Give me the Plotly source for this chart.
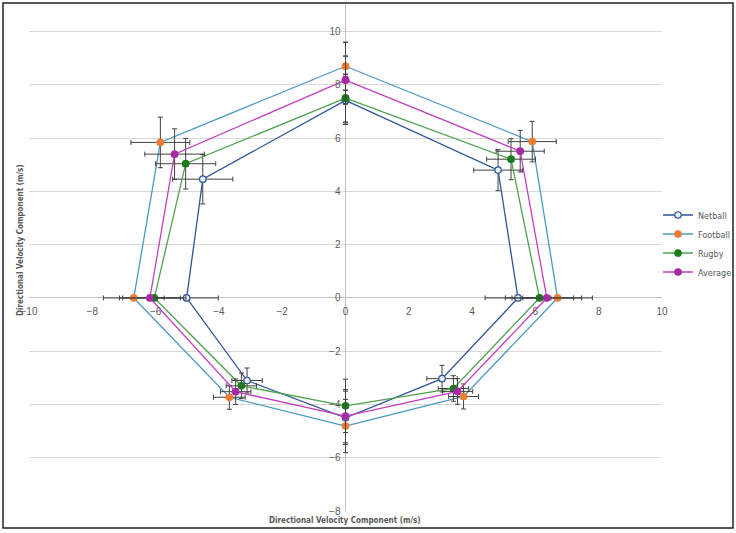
import plotly.graph_objects as go

# Order of directions: top, upper-right, right, lower-right, bottom, lower-left, left, upper-left, (close)
series_names = ["Netball", "Football", "Rugby", "Average"]

netball_x = [0.0, 4.82, 5.45, 3.05, 0.0, -3.11, -5.02, -4.51, 0.0]
netball_y = [7.42, 4.80, 0.0, -3.03, -4.50, -3.10, 0.0, 4.46, 7.42]
netball_ex = [0.0, 0.77, 1.04, 0.48, 0.0, 0.48, 1.00, 0.95, 0.0]
netball_ey = [0.90, 0.77, 0.0, 0.50, 1.00, 0.47, 0.0, 0.93, 0.90]

football_x = [0.0, 5.90, 6.70, 3.73, 0.0, -3.67, -6.69, -5.85, 0.0]
football_y = [8.70, 5.87, 0.0, -3.70, -4.81, -3.73, 0.0, 5.84, 8.70]
football_ex = [0.0, 0.76, 1.10, 0.47, 0.0, 0.50, 0.96, 0.93, 0.0]
football_ey = [0.90, 0.76, 0.0, 0.47, 1.00, 0.45, 0.0, 0.95, 0.90]

rugby_x = [0.0, 5.23, 6.13, 3.41, 0.0, -3.29, -6.04, -5.05, 0.0]
rugby_y = [7.50, 5.21, 0.0, -3.40, -4.05, -3.30, 0.0, 5.04, 7.50]
rugby_ex = [0.0, 0.77, 1.08, 0.48, 0.0, 0.48, 1.00, 0.95, 0.0]
rugby_ey = [0.90, 0.77, 0.0, 0.48, 1.00, 0.48, 0.0, 0.95, 0.90]

average_x = [0.0, 5.52, 6.36, 3.54, 0.0, -3.47, -6.18, -5.40, 0.0]
average_y = [8.18, 5.51, 0.0, -3.51, -4.44, -3.52, 0.0, 5.40, 8.18]
average_ex = [0.0, 0.76, 1.10, 0.48, 0.0, 0.48, 0.96, 0.94, 0.0]
average_ey = [0.90, 0.78, 0.0, 0.48, 1.00, 0.48, 0.0, 0.95, 0.90]

line_colors = ["#2F5597", "#4A9AC4", "#4EA24E", "#C23FC2"]
marker_fill = ["#EAF1FA", "#ED7D31", "#1B7A1B", "#A52CA5"]
marker_line = ["#2F5597", "#ED7D31", "#1B7A1B", "#A52CA5"]

data = [
    (netball_x, netball_y, netball_ex, netball_ey),
    (football_x, football_y, football_ex, football_ey),
    (rugby_x, rugby_y, rugby_ex, rugby_ey),
    (average_x, average_y, average_ex, average_ey),
]

FONT = "DejaVu Sans Condensed, Liberation Sans, sans-serif"
TICKFONT = "Liberation Sans, sans-serif"

fig = go.Figure()
for i, (name, (xs, ys, exs, eys)) in enumerate(zip(series_names, data)):
    fig.add_trace(go.Scatter(
        x=xs, y=ys, name=name, mode="lines+markers",
        line=dict(color=line_colors[i], width=1.3),
        marker=dict(size=6.5, color=marker_fill[i],
                    line=dict(color=marker_line[i], width=1.2)),
        error_x=dict(type="data", array=exs, visible=True, color="#404040",
                     thickness=1, width=2.5),
        error_y=dict(type="data", array=eys, visible=True, color="#404040",
                     thickness=1, width=2.5),
    ))

W, H = 736, 533
ml, mr, mt, mb = 29, 74, 5, 22
pw, ph = W - ml - mr, H - mt - mb
fig.update_layout(
    width=W, height=H,
    margin=dict(l=ml, r=mr, t=mt, b=mb, autoexpand=False),
    paper_bgcolor="white", plot_bgcolor="white",
    font=dict(family=FONT, size=10, color="#595959"),
    showlegend=True,
    legend=dict(x=(658 - ml) / pw, y=(H - mb - 243.5) / ph,
                xanchor="left", yanchor="middle",
                font=dict(family=FONT, size=9, color="#595959"),
                itemwidth=30,
                bgcolor="rgba(0,0,0,0)"),
    xaxis=dict(range=[-10, 10], dtick=2, tick0=-10, showgrid=False,
               zeroline=True, zerolinecolor="#BFBFBF", zerolinewidth=1,
               showline=False, anchor="free", position=8/19,
               ticks="outside", ticklen=4, tickcolor="rgba(0,0,0,0)",
               tickfont=dict(family=TICKFONT, size=10, color="#595959"),
               tickformat="d"),
    yaxis=dict(range=[-8, 11], dtick=2, tick0=-8, showgrid=True,
               gridcolor="#D9D9D9", gridwidth=1,
               zeroline=True, zerolinecolor="#BFBFBF", zerolinewidth=1,
               showline=False, anchor="free", position=0.5,
               ticks="outside", ticklen=3, tickcolor="rgba(0,0,0,0)",
               tickfont=dict(family=TICKFONT, size=10, color="#595959"),
               tickformat="d"),
)

# axis titles as annotations
fig.add_annotation(text="<b>Directional Velocity Component (m/s)</b>",
                   xref="paper", yref="paper",
                   x=(345 - ml) / pw, y=(H - mb - 520) / ph,
                   showarrow=False, font=dict(family=FONT, size=8, color="#595959"),
                   xanchor="center", yanchor="middle")
fig.add_annotation(text="<b>Directional Velocity Component (m/s)</b>",
                   xref="paper", yref="paper",
                   x=(20 - ml) / pw, y=(H - mb - 240) / ph,
                   textangle=-90,
                   showarrow=False, font=dict(family=FONT, size=8, color="#595959"),
                   xanchor="center", yanchor="middle")

# outer frame
fig.add_shape(type="rect", xref="paper", yref="paper",
              x0=(3 - ml) / pw, x1=(733 - ml) / pw,
              y0=(H - mb - 528) / ph, y1=(H - mb - 3) / ph,
              line=dict(color="#222222", width=1.5), layer="above")

fig.write_html("out.html")
